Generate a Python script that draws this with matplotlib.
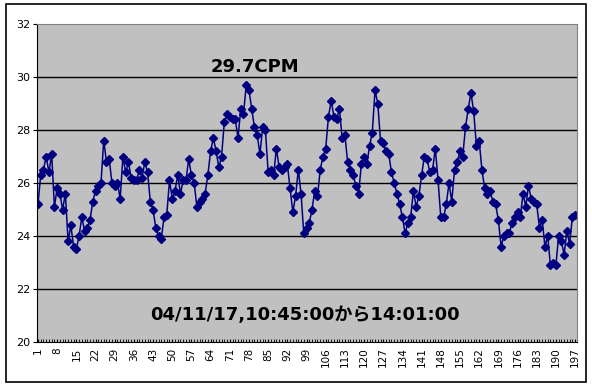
import numpy as np
import matplotlib
matplotlib.use("Agg")
import matplotlib.pyplot as plt
from matplotlib.patches import Rectangle

# ----- data: counts per minute, one reading per sample -----
cpm = [
    25.2, 26.3, 26.5, 27.0, 26.4, 27.1, 25.1, 25.8, 25.6, 25.0,
    25.6, 23.8, 24.4, 23.6, 23.5, 24.0, 24.7, 24.2, 24.3, 24.6,
    25.3, 25.7, 25.9, 26.0, 27.6, 26.8, 26.9, 26.0, 25.9, 26.0,
    25.4, 27.0, 26.4, 26.8, 26.2, 26.1, 26.1, 26.5, 26.2, 26.8,
    26.4, 25.3, 25.0, 24.3, 24.0, 23.9, 24.7, 24.8, 26.1, 25.4,
    25.7, 26.3, 25.6, 26.1, 26.1, 26.9, 26.3, 26.0, 25.1, 25.3,
    25.4, 25.6, 26.3, 27.2, 27.7, 27.2, 26.6, 27.0, 28.3, 28.6,
    28.5, 28.4, 28.4, 27.7, 28.8, 28.6, 29.7, 29.5, 28.8, 28.1,
    27.8, 27.1, 28.1, 28.0, 26.4, 26.5, 26.3, 27.3, 26.6, 26.5,
    26.6, 26.7, 25.8, 24.9, 25.5, 26.5, 25.6, 24.1, 24.3, 24.5,
    25.0, 25.7, 25.5, 26.5, 27.0, 27.3, 28.5, 29.1, 28.5, 28.4,
    28.8, 27.7, 27.8, 26.8, 26.5, 26.3, 25.9, 25.6, 26.7, 27.0,
    26.7, 27.4, 27.9, 29.5, 29.0, 27.6, 27.5, 27.2, 27.1, 26.4,
    26.0, 25.6, 25.2, 24.7, 24.1, 24.5, 24.7, 25.7, 25.1, 25.5,
    26.3, 27.0, 26.9, 26.4, 26.5, 27.3, 26.1, 24.7, 24.7, 25.2,
    26.0, 25.3, 26.5, 26.8, 27.2, 27.0, 28.1, 28.8, 29.4, 28.7,
    27.4, 27.6, 26.5, 25.8, 25.6, 25.7, 25.3, 25.2, 24.6, 23.6,
    24.0, 24.1, 24.1, 24.5, 24.7, 24.9, 24.7, 25.6, 25.1, 25.9,
    25.4, 25.3, 25.2, 24.3, 24.6, 23.6, 24.0, 22.9, 23.0, 22.9,
    24.0, 23.8, 23.3, 24.2, 23.7, 24.7, 24.8,
]
samples = np.arange(1, len(cpm) + 1)
xtick_labels = [str(v) for v in range(1, len(cpm) + 1, 7)]
yticks = [20, 22, 24, 26, 28, 30, 32]

peak_label = "29.7CPM"
period_label = "04/11/17,10:45:00から14:01:00"

W, H = 592, 386
fig = plt.figure(figsize=(W / 100, H / 100), dpi=100)
fig.patch.set_facecolor("white")

# outer chart border
fig.patches.append(Rectangle((6 / W, 4 / H), 580 / W, 378 / H,
                             transform=fig.transFigure, fill=False,
                             edgecolor="black", linewidth=1.2))

ax = fig.add_axes([37 / W, 1 - 342 / H, 540 / W, 318 / H])
ax.set_facecolor("#C0C0C0")

ax.plot(samples, cpm, color="#000080", linewidth=1.1,
        marker="D", markersize=4, markerfacecolor="#000080",
        markeredgecolor="#000080")

ax.set_xlim(0.65, 197.7)
ax.set_ylim(20, 32)

# style
for g in [22, 24, 26, 28, 30]:
    ax.axhline(g, color="black", linewidth=1.0, zorder=0.5)
ax.spines["top"].set_color("#808080")
ax.spines["right"].set_color("#808080")
ax.spines["left"].set_color("black")
ax.spines["bottom"].set_color("black")

ax.set_yticks(yticks)
ax.set_yticklabels([str(v) for v in yticks], fontsize=8)
ax.tick_params(axis="y", length=3, direction="out", pad=2)

ax.set_xticks(samples, minor=True)
ax.set_xticks(range(1, len(cpm) + 1, 7))
ax.set_xticklabels(xtick_labels, rotation=90, fontsize=7.5)
ax.tick_params(axis="x", which="both", direction="in", length=2.5, pad=4)

# annotations placed in figure coordinates
txt_font = ["DejaVu Sans", "Noto Sans CJK JP"]
fig.text(255 / W, 1 - 67 / H, peak_label, ha="center", va="center",
         fontsize=13, fontweight="bold", color="black", family=txt_font)
fig.text(305 / W, 1 - 315 / H, period_label, ha="center", va="center",
         fontsize=13, fontweight="bold", color="black", family=txt_font)

plt.savefig("out.png", dpi=100)
